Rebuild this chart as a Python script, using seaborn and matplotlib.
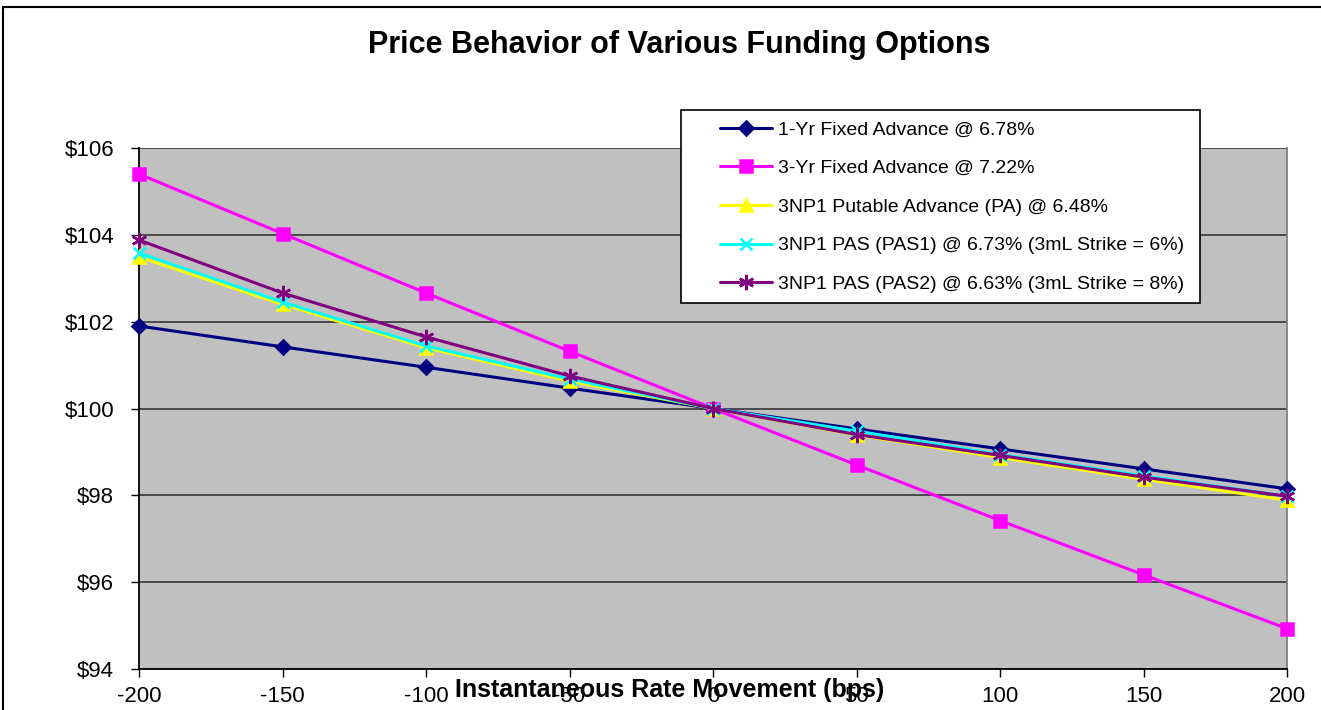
import matplotlib
matplotlib.use("Agg")
import matplotlib.pyplot as plt
import seaborn as sns
import pandas as pd
from matplotlib.patches import Rectangle
from matplotlib.ticker import FuncFormatter

rate_moves = [-200, -150, -100, -50, 0, 50, 100, 150, 200]

series_names = [
    "1-Yr Fixed Advance @ 6.78%",
    "3-Yr Fixed Advance @ 7.22%",
    "3NP1 Putable Advance (PA) @ 6.48%",
    "3NP1 PAS (PAS1) @ 6.73% (3mL Strike = 6%)",
    "3NP1 PAS (PAS2) @ 6.63% (3mL Strike = 8%)",
]

one_yr_fixed = [101.90, 101.42, 100.95, 100.47, 100.00, 99.53, 99.07, 98.61, 98.15]
three_yr_fixed = [105.40, 104.03, 102.66, 101.32, 100.00, 98.70, 97.42, 96.17, 94.93]
pa = [103.49, 102.40, 101.40, 100.63, 100.00, 99.39, 98.87, 98.37, 97.89]
pas1 = [103.58, 102.45, 101.44, 100.68, 100.00, 99.48, 98.94, 98.45, 97.98]
pas2 = [103.88, 102.66, 101.65, 100.75, 100.00, 99.40, 98.92, 98.42, 97.98]

values = [one_yr_fixed, three_yr_fixed, pa, pas1, pas2]
colors = ["#000080", "#FF00FF", "#FFFF00", "#00FFFF", "#800080"]
markers = ["D", "s", "^", "x", (6, 2, 0)]
msizes = [7, 9, 8, 9, 11]

sns.set_theme(style="white")
plt.rcParams["font.family"] = ["Liberation Sans", "DejaVu Sans"]
plt.rcParams["axes.unicode_minus"] = False

fig = plt.figure(figsize=(13.21, 7.10), dpi=100)
ax = fig.add_axes([139 / 1321, 1 - 669 / 710, 1148 / 1321, 521 / 710])
ax.set_facecolor("#C0C0C0")

for name, vals, c, m, ms in zip(series_names, values, colors, markers, msizes):
    df = pd.DataFrame({"x": rate_moves, "y": vals})
    sns.lineplot(data=df, x="x", y="y", ax=ax, color=c, marker=m, markersize=ms,
                 markeredgecolor=c, markerfacecolor=c, markeredgewidth=1.8,
                 linewidth=2.2, label=name, clip_on=False, zorder=3)

ax.set_xlim(-200, 200)
ax.set_ylim(94, 106)
ax.set_xticks(rate_moves)
ax.set_yticks(range(94, 107, 2))
ax.yaxis.set_major_formatter(FuncFormatter(lambda v, p: f"${v:.0f}"))
ax.grid(axis="y", color="#404040", linewidth=1.3)
ax.grid(axis="x", visible=False)
ax.set_axisbelow(True)

for s in ["left", "bottom"]:
    ax.spines[s].set_color("black")
    ax.spines[s].set_linewidth(1.3)
ax.spines["top"].set_visible(False)
ax.spines["right"].set_color("#808080")
ax.spines["right"].set_linewidth(1.3)

ax.tick_params(axis="both", which="major", direction="out", length=6, width=1,
               color="black", labelsize=16, labelcolor="black",
               bottom=True, left=True)
ax.tick_params(axis="y", pad=12)
ax.tick_params(axis="x", pad=6)

ax.set_xlabel("Instantaneous Rate Movement (bps)", fontsize=18, fontweight="bold",
              color="black", va="center")
ax.xaxis.set_label_coords(0.4625, -0.040)
ax.set_ylabel("")

fig.text(0.5145, 1 - 45 / 710, "Price Behavior of Various Funding Options",
         ha="center", va="center", fontsize=22, fontweight="bold", color="black")

leg = ax.legend(loc="upper left", bbox_to_anchor=(0.506, 1.0518), fontsize=14,
                frameon=False, handlelength=2.7, handletextpad=0.3, labelspacing=1.08,
                borderpad=0, borderaxespad=0)
leg.set_zorder(6)
for t in leg.get_texts():
    t.set_color("black")

frame = Rectangle((0.4721, 0.7025), 0.9242 - 0.4721, 1.0729 - 0.7025,
                  transform=ax.transAxes, facecolor="white", edgecolor="black",
                  linewidth=1.2, clip_on=False, zorder=5)
ax.add_patch(frame)

fig.patches.append(Rectangle((3 / 1321, -0.05), 1.1, 1 - 7 / 710 + 0.05,
                             transform=fig.transFigure, fill=False,
                             edgecolor="black", linewidth=1.5, clip_on=False))

fig.savefig("out.png", dpi=100)
